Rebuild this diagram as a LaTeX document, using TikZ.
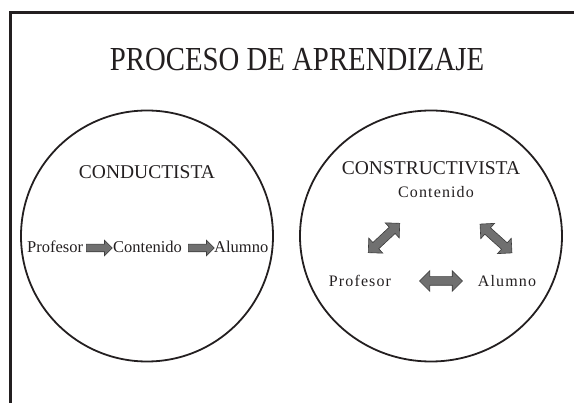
\documentclass[tikz,border=0pt]{standalone}
\usepackage{fontspec}
\setmainfont{Liberation Serif}
\usetikzlibrary{shapes.arrows,positioning}

\definecolor{tinta}{RGB}{35,31,32}
\definecolor{grisflecha}{RGB}{112,112,112}
\definecolor{grisborde}{RGB}{60,60,60}

\tikzset{
    titulo/.style={inner sep=0pt, text=tinta, font=\fontsize{32}{36}\selectfont},
    enfoque/.style={inner sep=0pt, text=tinta, font=\fontsize{19.5}{22}\selectfont},
    palabra/.style={inner sep=0pt, text=tinta, font=\fontsize{16.5}{19}\selectfont},
    espaciada/.style={inner sep=0pt, text=tinta, font=\fontsize{16}{18}\selectfont\addfontfeature{LetterSpace=7}},
    circulo/.style={draw=tinta, line width=1.8pt},
    flechauna/.style={single arrow, draw=grisborde, fill=grisflecha, line width=0.6pt,
        minimum height=26pt, inner xsep=0pt, inner ysep=3.5pt, text width=0pt,
        single arrow head extend=4pt, single arrow head indent=0pt},
    flechados/.style={double arrow, draw=grisborde, fill=grisflecha, line width=0.6pt,
        minimum height=43pt, inner xsep=0pt, inner ysep=4pt, text width=0pt,
        double arrow head extend=6pt, double arrow head indent=0pt},
}

\begin{document}
\begin{tikzpicture}[x=1pt, y=-1pt]
    \useasboundingbox (0,0) rectangle (574,403);

    % marco
    \draw[tinta, line width=3pt] (10.5,403) -- (10.5,13) -- (574,13);

    \node[titulo, anchor=base] (tit) at (297,71) {\scalebox{0.9}[1.05]{PROCESO DE APRENDIZAJE}};

    % los dos enfoques
    \draw[circulo] (147,236) ellipse [x radius=126, y radius=125.5];
    \draw[circulo] (431,236) ellipse [x radius=131, y radius=125.5];

    \node[enfoque, anchor=base] (cond) at (147,179) {CONDUCTISTA};
    \node[enfoque, anchor=base] (cons) at (431,175) {CONSTRUCTIVISTA};

    % conductista: en linea
    \node[palabra, anchor=base west] (prof1) at (27,253) {Profesor};
    \node[flechauna, anchor=west] (fa) at (86,248) {};
    \node[palabra, anchor=base west] (cont1) at (113,253) {Contenido};
    \node[flechauna, anchor=west] (fb) at (188,248) {};
    \node[palabra, anchor=base west] (alum1) at (214,253) {Alumno};

    % constructivista: triangulo
    \node[espaciada, anchor=base] (cont2) at (436,198) {Contenido};
    \node[espaciada, anchor=base] (prof2) at (360,287) {Profesor};
    \node[espaciada, anchor=base] (alum2) at (507,287) {Alumno};

    \node[flechados, rotate=43] (fc) at (384,238) {};
    \node[flechados, rotate=-42] (fd) at (496,238.5) {};
    \node[flechados] (fe) at (441,281) {};
\end{tikzpicture}
\end{document}
